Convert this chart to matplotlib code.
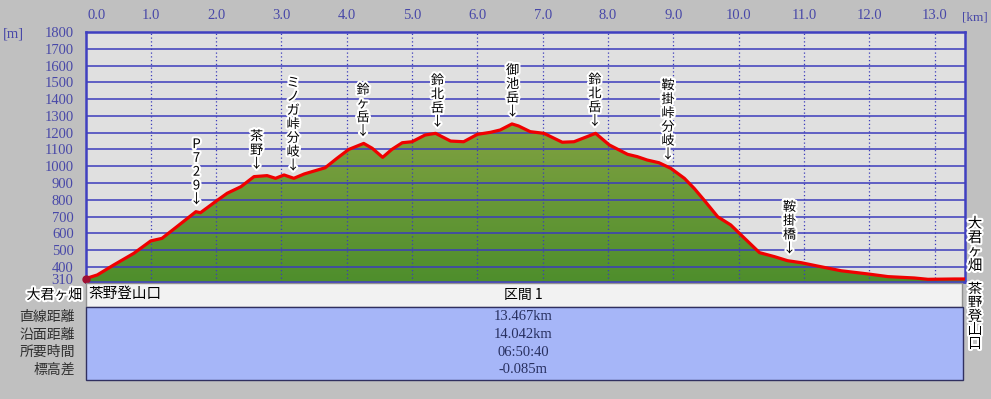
import numpy as np
import matplotlib.pyplot as plt
import matplotlib.patheffects as pe
import matplotlib.transforms as mtransforms
from matplotlib.colors import LinearSegmentedColormap
from matplotlib.patches import Rectangle

plt.rcParams['font.family'] = ['Noto Sans CJK JP', 'DejaVu Sans']

# profile: horizontal distance [km] / elevation [m]
dist = [0.00, 0.18, 0.43, 0.74, 1.00, 1.17, 1.40, 1.69, 1.76, 1.99, 2.17, 2.38, 2.58, 2.78,
        2.91, 3.04, 3.19, 3.35, 3.67, 3.85, 4.03, 4.26, 4.39, 4.55, 4.69, 4.85, 5.00, 5.20,
        5.36, 5.59, 5.79, 6.00, 6.20, 6.35, 6.53, 6.63, 6.81, 7.02, 7.30, 7.48, 7.81, 8.02,
        8.30, 8.45, 8.60, 8.78, 8.96, 9.17, 9.32, 9.47, 9.68, 9.88, 10.09, 10.32, 10.55,
        10.75, 10.96, 11.21, 11.57, 11.98, 12.29, 12.69, 12.90, 13.31, 13.467]
elev = [330, 352, 411, 481, 555, 570, 640, 729, 723, 789, 839, 878, 938, 944,
        928, 948, 928, 954, 991, 1047, 1100, 1136, 1107, 1053, 1100, 1140, 1146, 1186,
        1196, 1150, 1146, 1190, 1202, 1216, 1252, 1240, 1206, 1196, 1143, 1146, 1196, 1127,
        1071, 1057, 1037, 1021, 988, 928, 868, 799, 699, 650, 571, 485, 461,
        437, 425, 405, 377, 358, 342, 334, 326, 328, 328]

# waypoints
wp_km = [1.70, 2.62, 3.18, 4.25, 5.39, 6.54, 7.80, 8.92, 10.78]
wp_names = ['P729', '茶野', 'ミノガ峠分岐', '鈴ヶ岳', '鈴北岳', '御池岳', '鈴北岳', '鞍掛峠分岐', '鞍掛橋']

x_ticks = np.arange(0, 14)
y_ticks = [310] + list(range(400, 1900, 100))
start_name = '大君ヶ畑'
end_name = '茶野登山口'
row_names = ['直線距離', '沿面距離', '所要時間', '標高差']
row_values = ['13.467km', '14.042km', '06:50:40', '-0.085m']
section = '区間 1'

W, H = 991, 399
fig = plt.figure(figsize=(W / 100, H / 100), dpi=100, facecolor='#c0c0c0')

def px_axes(l, t, r, b):
    return fig.add_axes([l / W, 1 - b / H, (r - l) / W, (b - t) / H])

ax = px_axes(85.5, 32, 965, 282)
ax.set_facecolor('#e0e0e0')
ax.set_xlim(0, 13.467)
ax.set_ylim(310, 1800)

# gradient fill under the profile
cmap = LinearSegmentedColormap.from_list('g', ['#4e8e2c', '#82a242'])
grad = np.linspace(0, 1, 256).reshape(-1, 1)
poly = ax.fill_between(dist, elev, 310, color='none')
img = ax.imshow(grad, extent=[0, 13.467, 310, 1260], origin='lower', cmap=cmap,
                aspect='auto', zorder=1)
img.set_clip_path(poly.get_paths()[0], transform=ax.transData)
ax.set_ylim(310, 1800)

for y in y_ticks[1:-1]:
    ax.axhline(y, color='#3c3cbc', lw=1.1, zorder=2)
for x in x_ticks[1:]:
    ax.axvline(x, color='#3c3cbc', lw=0.9, ls=(0, (1, 2)), zorder=2)

ax.plot(dist, elev, color='#f00000', lw=2.3, zorder=3, solid_joinstyle='round')
ax.plot(dist[0], elev[0], 'o', color='#a01030', ms=5, zorder=4, clip_on=False)

for s in ax.spines.values():
    s.set_color('#4040c0')
    s.set_linewidth(1.8)

tick_font = dict(family='Liberation Serif', fontsize=10.5, color='#4848a8')
ax.xaxis.tick_top()
ax.set_xticks(x_ticks, [f'{v:.1f}' for v in x_ticks], **tick_font)
ax.set_yticks(y_ticks, [str(v) for v in y_ticks], **tick_font)
ax.tick_params(length=0, pad=8.5)
ax.tick_params(axis='x', pad=7)
lbl0 = ax.get_xticklabels()[0]
lbl0.set_horizontalalignment('left')
lbl0.set_transform(lbl0.get_transform() + mtransforms.ScaledTranslation(2 / 100, 0, fig.dpi_scale_trans))
lbl310 = ax.get_yticklabels()[0]
lbl310.set_transform(lbl310.get_transform() + mtransforms.ScaledTranslation(0, 3 / 100, fig.dpi_scale_trans))

fig.text(3 / W, 1 - 34 / H, '[m]', va='center', **tick_font)
fig.text(962 / W, 1 - 17 / H, '[km]', va='center', family='Liberation Serif',
         fontsize=9.5, color='#4848a8')

halo = [pe.withStroke(linewidth=3, foreground='white')]
for km, name in zip(wp_km, wp_names):
    y0 = np.interp(km, dist, elev)
    ax.annotate('\n'.join(list(name) + ['↓']), (km, y0), xytext=(0, 4),
                textcoords='offset points', ha='center', va='bottom', fontsize=9.5,
                linespacing=1.08, color='black', path_effects=halo, zorder=5)

# right side: start / end names written vertically
fig.text(975 / W, 1 - 217 / H, '\n'.join(start_name), ha='center', va='top', fontsize=10.5,
         linespacing=1.0, path_effects=halo)
fig.text(975 / W, 1 - 283 / H, '\n'.join(end_name), ha='center', va='top', fontsize=10.5,
         linespacing=0.95, path_effects=halo)
fig.text(82 / W, 1 - 295 / H, start_name, ha='right', va='center', fontsize=10,
         path_effects=halo)

# summary table
fig.patches.append(Rectangle((85.5 / W, 1 - 307 / H), (962 - 85.5) / W, 24 / H,
                             transform=fig.transFigure, facecolor='#f2f2f2',
                             edgecolor='#909090', lw=1))
fig.patches.append(Rectangle((85.5 / W, 1 - 380 / H), (963 - 85.5) / W, 73 / H,
                             transform=fig.transFigure, facecolor='#a6b6f8',
                             edgecolor='#303060', lw=1))
fig.text(88 / W, 1 - 294 / H, end_name, ha='left', va='center', fontsize=10.5)
fig.text(523 / W, 1 - 295 / H, section, ha='center', va='center', fontsize=10)
for i, (nm, val) in enumerate(zip(row_names, row_values)):
    y = 1 - (317 + 17.5 * i) / H
    fig.text(75 / W, y, nm, ha='right', va='center', fontsize=10, color='#303030')
    fig.text(523 / W, y, val, ha='center', va='center', fontsize=10.5,
             family='Liberation Serif', color='#283060')

fig.savefig('out.png', dpi=100, facecolor=fig.get_facecolor())
